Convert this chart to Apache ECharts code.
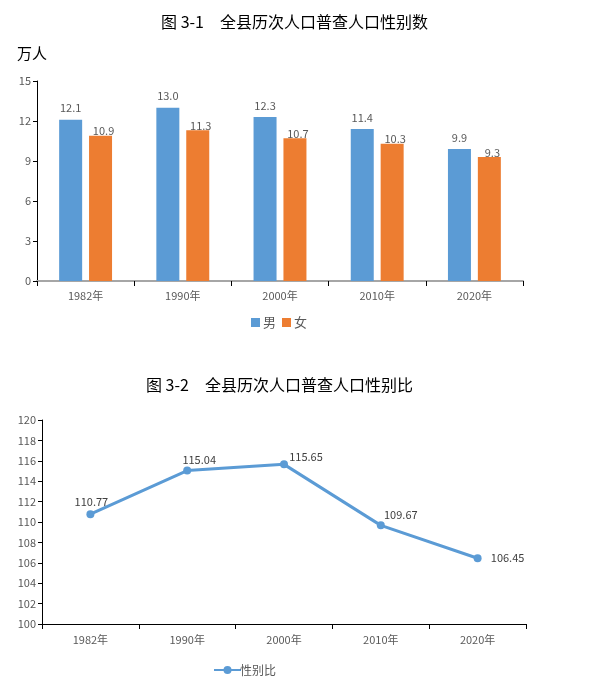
<!DOCTYPE html>
<html>
<head>
<meta charset="utf-8">
<script src="https://cdn.jsdelivr.net/npm/echarts@6/dist/echarts.min.js"></script>
<style>
html,body{margin:0;padding:0;background:#fff;}
#c{width:589px;height:684px;}
</style>
</head>
<body>
<div id="c"></div>
<script>
const years = ['1982年','1990年','2000年','2010年','2020年'];
const male = [12.1, 13.0, 12.3, 11.4, 9.9];
const female = [10.9, 11.3, 10.7, 10.3, 9.3];
const sexRatio = [110.77, 115.04, 115.65, 109.67, 106.45];

const labelColor = '#595959';
const font = '"Noto Sans CJK SC", "Noto Sans", sans-serif';
const ratioLabelOffsets = [[1,3],[12,5],[22,8],[20,5],[30,15]];

const chart = echarts.init(document.getElementById('c'));
chart.setOption({
  animation: false,
  textStyle: {fontFamily: font},
  title: [
    {text: '图 3-1　全县历次人口普查人口性别数', left: 'center', top: 9,
     textStyle: {fontSize: 16, fontWeight: 'normal', color: '#000', fontFamily: font}},
    {text: '万人', left: 12, top: 41,
     textStyle: {fontSize: 15, fontWeight: 'normal', color: '#000', fontFamily: font}},
    {text: '图 3-2　全县历次人口普查人口性别比', left: 141, top: 372,
     textStyle: {fontSize: 16, fontWeight: 'normal', color: '#000', fontFamily: font}}
  ],
  legend: [
    {data: ['男','女'], left: 246, top: 311, itemWidth: 9, itemHeight: 9, itemGap: 6,
     icon: 'rect', textStyle: {fontSize: 13, color: labelColor, padding: [0,0,0,-2]}},
    {data: ['性别比'], left: 208, top: 659, itemWidth: 27, itemHeight: 10,
     textStyle: {fontSize: 12, color: labelColor, padding: [0,0,0,-6]}}
  ],
  grid: [
    {left: 37, top: 81, width: 486, height: 200},
    {left: 42, top: 420, width: 484, height: 204}
  ],
  xAxis: [
    {type: 'category', gridIndex: 0, data: years,
     axisLine: {lineStyle: {color: '#a6a6a6', width: 2}},
     axisTick: {show: true, length: 5, lineStyle: {color: '#000'}},
     axisLabel: {color: labelColor, fontSize: 11, margin: 9}},
    {type: 'category', gridIndex: 1, data: years,
     axisLine: {lineStyle: {color: '#000', width: 1}},
     axisTick: {show: true, length: 5, lineStyle: {color: '#000'}},
     axisLabel: {color: labelColor, fontSize: 11, margin: 10}}
  ],
  yAxis: [
    {type: 'value', gridIndex: 0, min: 0, max: 15, interval: 3,
     axisLine: {show: true, lineStyle: {color: '#000'}},
     axisTick: {show: true, length: 4, lineStyle: {color: '#000'}},
     splitLine: {show: false},
     axisLabel: {color: labelColor, fontSize: 11, margin: 6}},
    {type: 'value', gridIndex: 1, min: 100, max: 120, interval: 2,
     axisLine: {show: true, lineStyle: {color: '#000'}},
     axisTick: {show: true, length: 4, lineStyle: {color: '#000'}},
     splitLine: {show: false},
     axisLabel: {color: labelColor, fontSize: 11, margin: 6}}
  ],
  series: [
    {name: '男', type: 'bar', xAxisIndex: 0, yAxisIndex: 0, data: male,
     barWidth: 23, barGap: '30%',
     itemStyle: {color: '#5b9bd5'},
     label: {show: true, position: 'top', distance: 6, color: labelColor, fontSize: 11,
             formatter: p => p.value.toFixed(1)}},
    {name: '女', type: 'bar', xAxisIndex: 0, yAxisIndex: 0, data: female,
     barWidth: 23,
     itemStyle: {color: '#ed7d31'},
     label: {show: true, position: 'top', distance: 2, offset: [3, 3], color: labelColor, fontSize: 11,
             formatter: p => p.value.toFixed(1)}},
    {name: '性别比', type: 'line', xAxisIndex: 1, yAxisIndex: 1,
     data: sexRatio.map((v, i) => ({value: v, label: {offset: ratioLabelOffsets[i]}})),
     symbol: 'circle', symbolSize: 8,
     lineStyle: {color: '#5b9bd5', width: 3},
     itemStyle: {color: '#5b9bd5'},
     label: {show: true, position: 'top', distance: 6, color: '#404040', fontSize: 11,
             formatter: p => p.value.toFixed(2)}}
  ]
});
</script>
</body>
</html>
